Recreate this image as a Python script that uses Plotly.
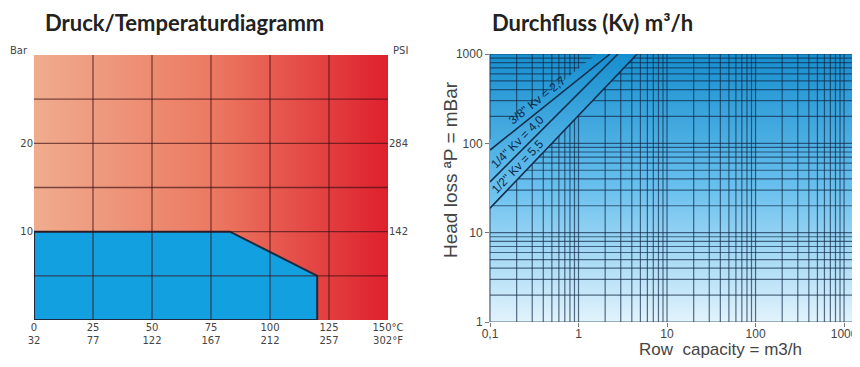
import math
import plotly.graph_objects as go

# ---------------- data: pressure / temperature diagram ----------------
TEMP_RANGE = [0, 150]
BAR_RANGE = [0, 30]
TEMP_C_TICKS = [0, 25, 50, 75, 100, 125, 150]
TEMP_C_TEXT = ["0", "25", "50", "75", "100", "125", "150°C"]
TEMP_F_TEXT = ["32", "77", "122", "167", "212", "257", "302°F"]
TEMP_GRID = [25, 50, 75, 100, 125]
BAR_GRID = [5, 10, 15, 20, 25]
BAR_TICKS = [10, 20]
BAR_TICK_TEXT = ["10", "20"]
PSI_TICK_TEXT = ["142", "284"]
ENVELOPE_T = [0, 0, 83, 120, 120, 0]
ENVELOPE_P = [0, 10, 10, 5, 0, 0]

# ---------------- data: flow diagram ----------------
FLOW_RANGE_LOG = [-1, 3.18]
HEAD_RANGE_LOG = [0, 3]
FLOW_TICKS = [0.1, 1, 10, 100, 1000]
FLOW_TICK_TEXT = ["0,1", "1", "10", "100", "1000"]
HEAD_TICKS = [1, 10, 100, 1000]
HEAD_TICK_TEXT = ["1", "10", "100", "1000"]
KV_LABELS = ['3/8" Kv = 2,7', '1/4" Kv = 4,0', '1/2" Kv = 5,5']
KV_FLOW_START = [0.1, 0.1, 0.1]
KV_HEAD_START = [84, 37, 18.8]
KV_FLOW_END = [2.27, 2.79, 4.6]
KV_HEAD_END = [1000, 1000, 1000]
KV_LABEL_FLOW = [0.40, 0.24, 0.24]

# ---------------- layout geometry (page px, page body has an 8px margin) ----------------
OFF = 8
W, H = 860 - OFF, 367 - 2 * OFF


def px(x):
    return (x - OFF) / W


def py(y):
    return 1 - (y - OFF) / H


L_DOM_X = [px(34), px(388)]
L_DOM_Y = [py(320), py(55)]
R_DOM_X = [px(490), px(860)]
R_DOM_Y = [py(322), py(54)]

TICK_FONT_L = dict(family="DejaVu Sans", size=10, color="#444444")
TICK_FONT_R = dict(family="Liberation Sans, Arial", size=12, color="#444444")
TITLE_FONT = dict(family="Lato", size=22, color="#222222")

RED_SCALE = [[0, "rgb(240,172,142)"], [0.5, "rgb(235,122,98)"], [1, "rgb(222,32,45)"]]
BLUE_SCALE = [[0, "rgb(226,243,252)"], [0.5, "rgb(105,192,238)"], [1, "rgb(22,142,206)"]]


def interp_scale(scale, f):
    for (f0, c0), (f1, c1) in zip(scale[:-1], scale[1:]):
        if f0 <= f <= f1:
            a = [float(v) for v in c0[4:-1].split(",")]
            b = [float(v) for v in c1[4:-1].split(",")]
            t = (f - f0) / (f1 - f0) if f1 > f0 else 0
            return "rgb(%d,%d,%d)" % tuple(round(a[i] + (b[i] - a[i]) * t) for i in range(3))
    return scale[-1][1]


fig = go.Figure()

# ---------- left chart ----------
fig.add_trace(go.Scatter(
    x=[TEMP_RANGE[0], TEMP_RANGE[1], TEMP_RANGE[1], TEMP_RANGE[0], TEMP_RANGE[0]],
    y=[BAR_RANGE[0], BAR_RANGE[0], BAR_RANGE[1], BAR_RANGE[1], BAR_RANGE[0]],
    mode="lines", line=dict(width=0), fill="toself",
    fillgradient=dict(type="horizontal", colorscale=RED_SCALE),
    hoverinfo="skip", showlegend=False, xaxis="x", yaxis="y"))

fig.add_trace(go.Scatter(
    x=ENVELOPE_T, y=ENVELOPE_P, mode="lines", fill="toself",
    fillcolor="#12a0e0", line=dict(color="#1b2a3e", width=2),
    hoverinfo="skip", showlegend=False, xaxis="x", yaxis="y"))

gx, gy = [], []
for t in TEMP_GRID:
    gx += [t, t, None]
    gy += [BAR_RANGE[0], BAR_RANGE[1], None]
for p in BAR_GRID:
    gx += [TEMP_RANGE[0], TEMP_RANGE[1], None]
    gy += [p, p, None]
fig.add_trace(go.Scatter(x=gx, y=gy, mode="lines",
                         line=dict(color="rgba(60,15,20,0.65)", width=1.3),
                         hoverinfo="skip", showlegend=False, xaxis="x", yaxis="y"))
# invisible trace on the PSI axis
fig.add_trace(go.Scatter(x=[TEMP_RANGE[0]], y=[BAR_RANGE[0]], mode="markers",
                         marker=dict(opacity=0), hoverinfo="skip",
                         showlegend=False, xaxis="x", yaxis="y2"))

# ---------- right chart ----------
fig.add_trace(go.Scatter(
    x=[10 ** FLOW_RANGE_LOG[0], 10 ** FLOW_RANGE_LOG[1], 10 ** FLOW_RANGE_LOG[1],
       10 ** FLOW_RANGE_LOG[0], 10 ** FLOW_RANGE_LOG[0]],
    y=[10 ** HEAD_RANGE_LOG[0], 10 ** HEAD_RANGE_LOG[0], 10 ** HEAD_RANGE_LOG[1],
       10 ** HEAD_RANGE_LOG[1], 10 ** HEAD_RANGE_LOG[0]],
    mode="lines", line=dict(width=0), fill="toself",
    fillgradient=dict(type="vertical", colorscale=BLUE_SCALE),
    hoverinfo="skip", showlegend=False, xaxis="x2", yaxis="y3"))

rx, ry = [], []
for k in range(-1, 4):
    for m in range(1, 10):
        v = m * 10 ** k
        if math.log10(v) <= FLOW_RANGE_LOG[1] + 1e-9:
            rx += [v, v, None]
            ry += [10 ** HEAD_RANGE_LOG[0], 10 ** HEAD_RANGE_LOG[1], None]
        if math.log10(v) <= HEAD_RANGE_LOG[1] + 1e-9 and v >= 1:
            rx += [10 ** FLOW_RANGE_LOG[0], 10 ** FLOW_RANGE_LOG[1], None]
            ry += [v, v, None]
fig.add_trace(go.Scatter(x=rx, y=ry, mode="lines",
                         line=dict(color="rgba(18,42,72,0.68)", width=1.2),
                         hoverinfo="skip", showlegend=False, xaxis="x2", yaxis="y3"))

# clear band behind the Kv lines
l1x0, l1y0 = math.log10(KV_FLOW_START[0]), math.log10(KV_HEAD_START[0])
l1x1, l1y1 = math.log10(KV_FLOW_END[0]), math.log10(KV_HEAD_END[0])
s1 = (l1y1 - l1y0) / (l1x1 - l1x0)
band_up = 0.12
top_x = l1x0 + (HEAD_RANGE_LOG[1] - l1y0 - band_up) / s1
band_x = [KV_FLOW_START[0], 10 ** top_x, KV_FLOW_END[2], KV_FLOW_START[2], KV_FLOW_START[0]]
band_y = [10 ** (l1y0 + band_up), 10 ** HEAD_RANGE_LOG[1], KV_HEAD_END[2], KV_HEAD_START[2],
          10 ** (l1y0 + band_up)]
lo = math.log10(KV_HEAD_START[2])
span = HEAD_RANGE_LOG[1] - HEAD_RANGE_LOG[0]
sub_scale = []
for i in range(11):
    t = i / 10
    f = (lo + t * (HEAD_RANGE_LOG[1] - lo) - HEAD_RANGE_LOG[0]) / span
    sub_scale.append([t, interp_scale(BLUE_SCALE, f)])
fig.add_trace(go.Scatter(x=band_x, y=band_y, mode="lines", line=dict(width=0),
                         fill="toself", fillgradient=dict(type="vertical", colorscale=sub_scale),
                         hoverinfo="skip", showlegend=False, xaxis="x2", yaxis="y3"))

px_dec_x = (R_DOM_X[1] - R_DOM_X[0]) * W / (FLOW_RANGE_LOG[1] - FLOW_RANGE_LOG[0])
px_dec_y = (R_DOM_Y[1] - R_DOM_Y[0]) * H / (HEAD_RANGE_LOG[1] - HEAD_RANGE_LOG[0])

annotations = []
for lab, fx0, hy0, fx1, hy1, lf in zip(KV_LABELS, KV_FLOW_START, KV_HEAD_START,
                                       KV_FLOW_END, KV_HEAD_END, KV_LABEL_FLOW):
    fig.add_trace(go.Scatter(x=[fx0, fx1], y=[hy0, hy1], mode="lines",
                             line=dict(color="#10304f", width=1.6),
                             hoverinfo="skip", showlegend=False, xaxis="x2", yaxis="y3"))
    ax0, ay0, ax1, ay1 = math.log10(fx0), math.log10(hy0), math.log10(fx1), math.log10(hy1)
    s = (ay1 - ay0) / (ax1 - ax0)
    ly = ay0 + s * (math.log10(lf) - ax0)
    ang = math.atan2((ay1 - ay0) * px_dec_y, (ax1 - ax0) * px_dec_x)
    d = 9
    annotations.append(dict(
        x=math.log10(lf), y=ly, xref="x2", yref="y3", text=lab, showarrow=False,
        xanchor="center", yanchor="middle",
        textangle=-math.degrees(ang), xshift=-math.sin(ang) * d, yshift=math.cos(ang) * d,
        font=dict(family="Liberation Sans, Arial", size=12, color="#0d2a4a")))

# ---------- texts ----------
annotations += [
    dict(text="<b>Druck/Temperaturdiagramm</b>", x=px(43), y=py(22), xref="paper",
         yref="paper", xanchor="left", yanchor="middle", showarrow=False, font=TITLE_FONT),
    dict(text="<b>Durchfluss (Kv) m³/h</b>", x=px(490), y=py(22), xref="paper",
         yref="paper", xanchor="left", yanchor="middle", showarrow=False, font=TITLE_FONT),
    dict(text="Bar", x=px(8), y=py(51), xref="paper", yref="paper", xanchor="left",
         yanchor="middle", showarrow=False, font=TICK_FONT_L),
    dict(text="PSI", x=px(391), y=py(51), xref="paper", yref="paper", xanchor="left",
         yanchor="middle", showarrow=False, font=TICK_FONT_L),
    dict(text="Head loss ªP = mBar", x=px(450), y=py(170), xref="paper", yref="paper",
         xanchor="center", yanchor="middle", textangle=-90, showarrow=False,
         font=dict(family="Liberation Sans, Arial", size=19, color="#444444")),
    dict(text="Row  capacity = m3/h", x=px(720), y=py(349), xref="paper", yref="paper",
         xanchor="center", yanchor="middle", showarrow=False,
         font=dict(family="Liberation Sans, Arial", size=17, color="#444444")),
]

fig.update_layout(
    width=W, height=H, margin=dict(l=0, r=0, t=0, b=0, autoexpand=False),
    paper_bgcolor="white", plot_bgcolor="white", showlegend=False,
    annotations=annotations,
    xaxis=dict(domain=L_DOM_X, range=TEMP_RANGE, showgrid=False, zeroline=False,
               tickmode="array", tickvals=TEMP_C_TICKS,
               ticktext=[c + "<br>" + f for c, f in zip(TEMP_C_TEXT, TEMP_F_TEXT)],
               ticks="", tickfont=TICK_FONT_L, anchor="y", automargin=False),
    yaxis=dict(domain=L_DOM_Y, range=BAR_RANGE, showgrid=False, zeroline=False,
               tickmode="array", tickvals=BAR_TICKS, ticktext=BAR_TICK_TEXT,
               ticks="", tickfont=TICK_FONT_L, anchor="x", automargin=False),
    yaxis2=dict(domain=L_DOM_Y, range=BAR_RANGE, overlaying="y", side="right",
                showgrid=False, zeroline=False, tickmode="array", tickvals=BAR_TICKS,
                ticktext=PSI_TICK_TEXT, ticks="", tickfont=TICK_FONT_L, anchor="x",
                automargin=False),
    xaxis2=dict(domain=R_DOM_X, type="log", range=FLOW_RANGE_LOG, showgrid=False,
                zeroline=False, tickmode="array", tickvals=FLOW_TICKS, ticktext=FLOW_TICK_TEXT,
                ticks="outside", ticklen=4, tickcolor="#777777", tickfont=TICK_FONT_R,
                ticklabelstandoff=-3, anchor="y3", automargin=False),
    yaxis3=dict(domain=R_DOM_Y, type="log", range=HEAD_RANGE_LOG, showgrid=False,
                zeroline=False, tickmode="array", tickvals=HEAD_TICKS, ticktext=HEAD_TICK_TEXT,
                ticks="outside", ticklen=4, tickcolor="#777777", tickfont=TICK_FONT_R,
                showline=True, linecolor="rgb(110,160,200)", linewidth=1, anchor="x2",
                automargin=False),
)

fig.write_html("out.html")
